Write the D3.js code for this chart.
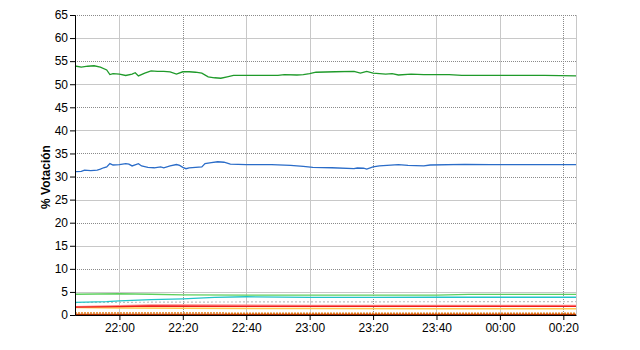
<!DOCTYPE html>
<html>
<head>
<meta charset="utf-8">
<script src="https://cdn.jsdelivr.net/npm/d3@7"></script>
<style>
  body { margin: 0; background: #fff; }
  svg { display: block; font-family: "Liberation Sans", Arial, sans-serif; }
</style>
</head>
<body>
<div id="chart"></div>
<script>
// datos
let greenTimes = ["21:46","21:48","21:50","21:52","21:54","21:56","21:57","21:58","22:00","22:02","22:04","22:05","22:06","22:08","22:10","22:12","22:14","22:16","22:18","22:20","22:22","22:24","22:26","22:28","22:30","22:32","22:34","22:36","22:40","22:50","22:52","22:56","22:58","23:00","23:02","23:08","23:14","23:16","23:18","23:20","23:24","23:26","23:28","23:32","23:36","23:44","23:48","23:56","00:04","00:14","00:24"];
let greenValues = [53.95,53.7,53.9,54.0,53.7,53.1,52.1,52.3,52.2,51.9,52.2,52.5,51.8,52.4,52.9,52.8,52.8,52.7,52.2,52.7,52.7,52.6,52.4,51.6,51.4,51.3,51.6,51.9,51.9,51.9,52.1,52.0,52.1,52.3,52.6,52.7,52.8,52.4,52.8,52.4,52.2,52.3,52.0,52.2,52.1,52.1,51.9,51.9,51.9,51.9,51.8];

let blueTimes = ["21:46","21:48","21:49","21:51","21:53","21:54","21:55","21:56","21:57","21:58","22:00","22:02","22:03","22:04","22:06","22:07","22:09","22:11","22:13","22:14","22:16","22:18","22:19","22:20","22:21","22:22","22:26","22:27","22:29","22:31","22:33","22:35","22:40","22:48","22:54","22:58","23:01","23:07","23:14","23:15","23:17","23:18","23:20","23:22","23:28","23:31","23:36","23:38","23:49","23:57","00:24"];
let blueValues = [31.05,31.1,31.4,31.3,31.4,31.6,31.9,32.1,32.8,32.5,32.6,32.8,32.7,32.3,32.8,32.3,32.0,31.9,32.1,31.9,32.3,32.6,32.4,32.0,31.7,31.9,32.1,32.8,33.0,33.2,33.1,32.7,32.6,32.6,32.4,32.2,32.0,31.9,31.7,31.85,31.8,31.6,32.1,32.3,32.6,32.4,32.3,32.5,32.65,32.6,32.6];

let lightGreenTimes = ["21:46","22:00","22:10","22:20","22:40","23:00","23:40","23:50","00:24"];
let lightGreenValues = [4.5,4.6,4.5,4.35,4.3,4.3,4.3,4.45,4.45];

let cyanTimes = ["21:46","21:56","22:00","22:10","22:20","22:30","22:40","23:00","23:20","23:40","00:00","00:24"];
let cyanValues = [2.75,2.9,3.05,3.35,3.5,3.8,3.95,3.8,3.8,3.85,3.85,3.85];

let grayTimes = ["21:46","22:20","23:00","00:24"];
let grayValues = [2.7,2.8,2.85,2.9];

let pinkTimes = ["21:46","22:00","22:10","22:20","23:00","00:24"];
let pinkValues = [1.8,2.0,2.15,2.15,2.05,2.05];

let redTimes = ["21:46","22:00","22:10","22:40","23:20","00:24"];
let redValues = [1.7,1.8,1.95,1.85,1.85,1.85];

let yellowTimes = ["21:46","22:00","22:20","23:00","23:40","00:24"];
let yellowValues = [1.6,1.5,1.45,1.4,1.35,1.35];

let orangeTimes = ["21:46","22:40","00:24"];
let orangeValues = [0.45,0.4,0.4];

let darkRedTimes = ["21:46","00:24"];
let darkRedValues = [0.12,0.12];

let yTicks = [0,5,10,15,20,25,30,35,40,45,50,55,60,65];
let xTickLabels = ["22:00","22:20","22:40","23:00","23:20","23:40","00:00","00:20"];
let dottedY = [65,55,45,35,30,20,10];
let dottedX = ["22:20","23:20","00:20"];

let margin = {top: 15, right: 64, bottom: 35, left: 75},
    width = 640 - margin.left - margin.right,
    height = 350 - margin.top - margin.bottom;

// pasada la medianoche sumamos un dia
let parse = function(s){
    let p = s.split(":").map(Number);
    let day = p[0] < 12 ? 2 : 1;
    return new Date(2000, 0, day, p[0], p[1]);
};

let xScale = d3.scaleTime()
    .domain([parse("21:46"), parse("00:24")])
    .range([0, width]);

let yScale = d3.scaleLinear()
    .domain([0, 65])
    .range([height, 0]);

let svg = d3.select("#chart").append("svg")
    .attr("width", 640)
    .attr("height", 350)
    .append("g")
    .attr("transform", `translate(${margin.left},${margin.top})`);

// rejilla horizontal
svg.append("g").selectAll("line")
    .data(yTicks.filter(d => d > 0))
    .join("line")
    .attr("x1", 0).attr("x2", width)
    .attr("y1", d => Math.round(yScale(d)) + 0.5)
    .attr("y2", d => Math.round(yScale(d)) + 0.5)
    .attr("stroke", d => dottedY.includes(d) ? "#8a8a8a" : "#c8c8c8")
    .attr("stroke-dasharray", d => dottedY.includes(d) ? "1 1" : null)
    .attr("shape-rendering", "crispEdges");

// rejilla vertical
svg.append("g").selectAll("line")
    .data(xTickLabels)
    .join("line")
    .attr("x1", d => Math.round(xScale(parse(d))) + 0.5)
    .attr("x2", d => Math.round(xScale(parse(d))) + 0.5)
    .attr("y1", 0).attr("y2", height)
    .attr("stroke", d => dottedX.includes(d) ? "#8a8a8a" : "#c8c8c8")
    .attr("stroke-dasharray", d => dottedX.includes(d) ? "1 1" : null)
    .attr("shape-rendering", "crispEdges");

svg.append("line")
    .attr("x1", width + 0.5).attr("x2", width + 0.5)
    .attr("y1", 0).attr("y2", height)
    .attr("stroke", "#c8c8c8")
    .attr("shape-rendering", "crispEdges");

// lineas de datos
let line = d3.line()
    .x(d => xScale(d.t))
    .y(d => yScale(d.v));

let drawSeries = function(times, values, color, dash, w){
    let pts = times.map((t, i) => ({t: parse(t), v: values[i]}));
    svg.append("path")
        .datum(pts)
        .attr("fill", "none")
        .attr("stroke", color)
        .attr("stroke-width", w || 1.2)
        .attr("stroke-dasharray", dash)
        .attr("d", line);
};

drawSeries(darkRedTimes, darkRedValues, "#b03000", null, 1.5);
drawSeries(orangeTimes, orangeValues, "#e8801a", "2 1", 1.5);
drawSeries(yellowTimes, yellowValues, "#ffc850", null, 1.5);
drawSeries(grayTimes, grayValues, "#c0c0c0", "2 2", 1.2);
drawSeries(pinkTimes, pinkValues, "#ff8a8a", null, 1.5);
drawSeries(redTimes, redValues, "#ee1c1c", null, 1.3);
drawSeries(cyanTimes, cyanValues, "#22c4c8", null, 1.3);
drawSeries(lightGreenTimes, lightGreenValues, "#5ecf5e", null, 1.3);
drawSeries(blueTimes, blueValues, "#2a6cc8", null, 1.3);
drawSeries(greenTimes, greenValues, "#1f9a2a", null, 1.3);

// ejes
let yAxis = d3.axisLeft(yScale).tickValues(yTicks).tickSize(5).tickPadding(2);
svg.append("g")
    .attr("class", "yAxis")
    .call(yAxis)
    .attr("font-size", "12px")
    .attr("font-family", "Liberation Sans, Arial, sans-serif")
    .call(g => g.selectAll("text").attr("fill", "#000"))
    .call(g => g.select(".domain").attr("stroke", "#000"));

let xAxis = d3.axisBottom(xScale)
    .tickValues(xTickLabels.map(parse))
    .tickFormat(d3.timeFormat("%H:%M"))
    .tickSize(5).tickPadding(3).tickSizeOuter(0);
svg.append("g")
    .attr("class", "xAxis")
    .attr("transform", `translate(0,${height})`)
    .call(xAxis)
    .attr("font-size", "12px")
    .attr("font-family", "Liberation Sans, Arial, sans-serif")
    .call(g => g.selectAll("text").attr("fill", "#000"))
    .call(g => g.select(".domain").attr("stroke", "#000"));

svg.append("text")
    .attr("transform", `translate(${-25},${height / 2 + 12}) rotate(-90)`)
    .attr("text-anchor", "middle")
    .attr("font-size", "12px")
    .attr("font-weight", "bold")
    .text("% Votación");
</script>
</body>
</html>
